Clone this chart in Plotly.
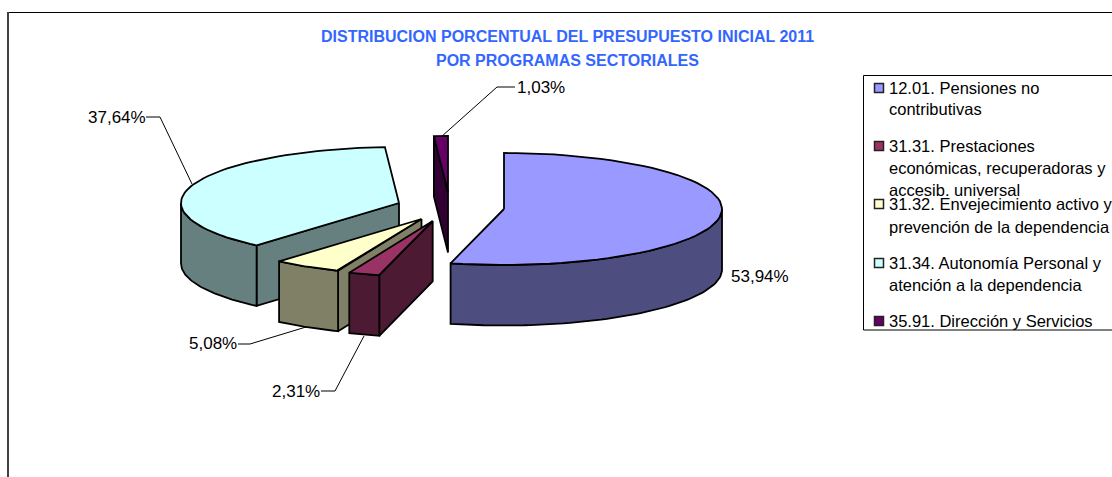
import numpy as np
import plotly.graph_objects as go

TITLE_LINES = ["DISTRIBUCION PORCENTUAL DEL PRESUPUESTO INICIAL 2011", "POR PROGRAMAS SECTORIALES"]
CATEGORIES = ["12.01. Pensiones no<br>contributivas",
              "31.31. Prestaciones<br>económicas, recuperadoras y<br>accesib. universal",
              "31.32. Envejecimiento activo y<br>prevención de la dependencia",
              "31.34. Autonomía Personal y<br>atención a la dependencia",
              "35.91. Dirección y Servicios"]
VALUES = [53.94, 2.31, 5.08, 37.64, 1.03]
VALUE_LABELS = ["53,94%", "2,31%", "5,08%", "37,64%", "1,03%"]

# ---- styling / layout geometry (pixel-based axes) ----
TOP_COLORS = ["#9999FF", "#993366", "#FFFFCC", "#CCFFFF", "#660066"]
SIDE_COLORS = ["#4D4D80", "#4D1A33", "#808066", "#668080", "#330033"]
APEX = [(504, 209), (432.7, 221), (421.5, 219), (399, 203), (448, 192)]
RX, RY, DEPTH = 218, 56, 60.5
DRAW_ORDER = [3, 4, 2, 1, 0]
LABEL_POS = [(760, 276), (296, 391), (213, 343), (117, 117), (541, 87)]
LEADERS = [None, [(321, 391), (335, 391), (364, 336)], [(238, 344), (250, 344), (306, 327)],
           [(146, 117), (160, 117), (192, 184)], [(515, 87), (497, 87), (441, 137)]]
LEGEND_ROWS = [[88, 109], [146, 168, 190], [204, 227], [263, 285], [321]]
FONT = "Liberation Sans, Arial, sans-serif"

edges = np.concatenate([[0], np.cumsum(VALUES)]) * 3.6
fig = go.Figure()


def rim(i, a0, a1, n=60):
    t = np.radians(np.linspace(a0, a1, n))
    ax, ay = APEX[i]
    return ax + RX * np.sin(t), ay - RY * np.cos(t)


def poly(xs, ys, color):
    fig.add_trace(go.Scatter(x=list(xs), y=list(ys), mode="lines", fill="toself", fillcolor=color,
                             line=dict(color="#000000", width=1.8), hoverinfo="skip", showlegend=False))


for i in DRAW_ORDER:
    a0, a1 = edges[i], edges[i + 1]
    ax, ay = APEX[i]
    # radial wall on the starting edge, when it faces the viewer
    if 180 <= a0 < 360:
        ex, ey = rim(i, a0, a0, 1)
        poly([ax, ex[0], ex[0], ax, ax], [ay, ey[0], ey[0] + DEPTH, ay + DEPTH, ay], SIDE_COLORS[i])
    # outer wall on the front half of the rim
    lo, hi = max(a0, 90), min(a1, 270)
    if lo < hi:
        wx, wy = rim(i, lo, hi)
        poly(np.r_[wx, wx[::-1], wx[0]], np.r_[wy, wy[::-1] + DEPTH, wy[0]], SIDE_COLORS[i])
    # top face
    tx, ty = rim(i, a0, a1)
    poly(np.r_[ax, tx, ax], np.r_[ay, ty, ay], TOP_COLORS[i])

annotations = []
for line, y in zip(TITLE_LINES, [36, 60]):
    annotations.append(dict(x=567, y=y, text=f"<b>{line}</b>", showarrow=False, xref="x", yref="y",
                            xanchor="center", yanchor="middle",
                            font=dict(family=FONT, size=16, color="#3366FF")))
for i, lab in enumerate(VALUE_LABELS):
    x, y = LABEL_POS[i]
    annotations.append(dict(x=x, y=y, text=lab, showarrow=False, xanchor="center", yanchor="middle",
                            font=dict(family=FONT, size=17, color="#000000")))
    if LEADERS[i]:
        pts = LEADERS[i]
        fig.add_trace(go.Scatter(x=[p[0] for p in pts], y=[p[1] for p in pts], mode="lines",
                                 line=dict(color="#000000", width=1), hoverinfo="skip", showlegend=False))

for i, cat in enumerate(CATEGORIES):
    for row, y in zip(cat.split("<br>"), LEGEND_ROWS[i]):
        annotations.append(dict(x=887, y=y, text=row, showarrow=False, xanchor="left", yanchor="middle",
                                font=dict(family=FONT, size=16.5, color="#000000")))
    fig.add_trace(go.Scatter(x=[879], y=[LEGEND_ROWS[i][0]], mode="markers", hoverinfo="skip", showlegend=False,
                             marker=dict(symbol="square", size=9, color=TOP_COLORS[i],
                                         line=dict(color="#222222", width=1.5))))

shapes = [
    dict(type="line", x0=8, x1=1112, y0=12.5, y1=12.5, line=dict(color="#000000", width=1)),
    dict(type="line", x0=8, x1=8, y0=12, y1=477, line=dict(color="#404040", width=2)),
    dict(type="rect", x0=863.5, x1=1130, y0=75.5, y1=330, line=dict(color="#000000", width=1)),
]

fig.update_layout(
    width=1112, height=477, margin=dict(l=0, r=0, t=0, b=0),
    paper_bgcolor="#FFFFFF", plot_bgcolor="#FFFFFF", showlegend=False,
    xaxis=dict(range=[0, 1112], visible=False, fixedrange=True),
    yaxis=dict(range=[477, 0], visible=False, fixedrange=True),
    annotations=annotations, shapes=shapes,
)
fig.write_html("out.html", config={"displayModeBar": False},
               post_script="document.body.style.margin='0';document.body.style.overflow='hidden';")
